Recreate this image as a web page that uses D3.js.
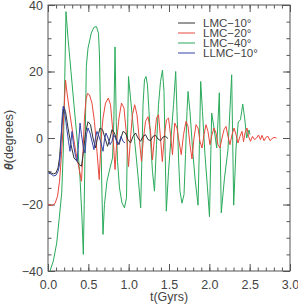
<!DOCTYPE html>
<html><head><meta charset="utf-8">
<script src="https://cdn.jsdelivr.net/npm/d3@7/dist/d3.min.js"></script>
<style>body{margin:0;background:#fff}svg{display:block}text{font-family:"Liberation Sans",Arial,sans-serif;fill:#444}</style>
</head><body><svg id="c" width="298" height="304"></svg>
<script>
const seriesNames = ["LMC\u221210\u00b0","LMC\u221220\u00b0","LMC\u221240\u00b0","LLMC\u221210\u00b0"];
const seriesColors = ["#333333","#e8483c","#2aaa5a","#3444aa"];
const xTicks = [0,0.5,1,1.5,2,2.5,3];
const yTicks = [-40,-20,0,20,40];

const tBlack = [0.006,0.037,0.068,0.099,0.124,0.143,0.161,0.180,0.198,0.217,0.248,0.285,0.322,0.360,0.390,0.415,0.440,0.465,0.496,0.527,0.558,0.589,0.614,0.645,0.676,0.707,0.738,0.769,0.793,0.824,0.855,0.880,0.905,0.930,0.961,0.992,1.023,1.054,1.085,1.116,1.147,1.178,1.209,1.240,1.271,1.302,1.333,1.364,1.395,1.426,1.457,1.488];
const vBlack = [-10.2,-10.5,-10.8,-10.5,-9,-6,0,6,9.2,8,3,-2,-6,-7,-8,-8.5,-4,1.5,4.9,4,0,-3,0,3,2.5,0,-2.5,0,2.5,1.5,-1,-2,0,2,1.5,-0.5,-1.5,0.5,1.5,0,-1,0.5,1,-0.5,-0.8,0.5,0.8,-0.3,-0.8,0.3,0.5,-0.2];

const tRed = [0.006,0.050,0.087,0.118,0.143,0.167,0.192,0.217,0.236,0.273,0.310,0.347,0.384,0.415,0.434,0.452,0.471,0.490,0.514,0.545,0.576,0.607,0.635,0.657,0.682,0.713,0.748,0.775,0.800,0.831,0.855,0.880,0.911,0.942,0.973,0.998,1.023,1.047,1.075,1.103,1.134,1.159,1.184,1.209,1.240,1.271,1.295,1.320,1.345,1.370,1.395,1.417,1.444,1.469,1.494,1.519,1.543,1.571,1.599,1.624,1.652,1.680,1.711,1.736,1.760,1.785,1.810,1.835,1.860,1.884,1.909,1.934,1.959,1.983,2.008,2.033,2.058,2.083,2.107,2.132,2.157,2.182,2.207,2.231,2.256,2.281,2.306,2.331,2.355,2.380,2.405,2.424,2.442,2.467,2.486,2.510,2.535,2.560,2.585,2.610,2.634,2.653,2.678,2.702,2.727,2.752,2.777,2.802,2.833];
const vRed = [-20,-20.3,-19.7,-17.5,-13,-5,5,17.4,13.5,7,1,-4.5,-9,-13,-4,6,11.5,13.4,13,10.5,5,-4,-12.5,-1,6,10.5,12,10,3,-9.5,0,6,10.5,9,1,-8.6,0,7,10,7,-1,-7,0,5,6.4,2,-6.6,0,6,7,0,-7.1,1,5.5,6,1,-5,4.5,3,-1,-5,1,5,3.5,-2,-6.3,0,4,3,-1,-3,1,4,2,-2,1,3,1.5,-2,-3,0,2.5,3.5,0.5,-2,1,3,1,-1.5,0.5,2,-1.1,1.5,3,0.5,-1,0.5,-0.5,0,0.9,-0.5,0.8,-0.8,0.2,0.5,-0.8,-0.2,0.2,0];

const tGreen = [0.025,0.066,0.108,0.140,0.170,0.190,0.208,0.223,0.248,0.285,0.322,0.360,0.397,0.421,0.438,0.449,0.462,0.475,0.496,0.537,0.570,0.601,0.626,0.638,0.647,0.660,0.669,0.682,0.700,0.731,0.769,0.800,0.816,0.831,0.846,0.862,0.886,0.917,0.948,0.973,0.985,0.998,1.023,1.054,1.091,1.122,1.149,1.165,1.178,1.196,1.215,1.233,1.252,1.277,1.295,1.320,1.345,1.370,1.395,1.419,1.438,1.453,1.467,1.494,1.525,1.556,1.583,1.599,1.618,1.636,1.661,1.686,1.705,1.723,1.736,1.760,1.791,1.822,1.860,1.877,1.893,1.915,1.946,1.977,2.002,2.029,2.058,2.091,2.124,2.148,2.188,2.231,2.277,2.302,2.331,2.359,2.386,2.414,2.438,2.463,2.492,2.504];
const vGreen = [-40,-37,-31.6,-24,-16.5,-3.6,18,38,30,20,10,0,-12,-24,-35,-20,1,21.5,27,31.6,33.3,33.5,31.5,25,12,-5,-17,-29,-20,-13,-9,-6,5,27.4,5,-7,-15,-19.5,-21,-18,0,18.5,12,4,-5,-13,-21,-5,10,17.5,18.5,16,8,-3,-10,-16,-2,10,17,20.4,14,-5,-22,-10,0,10,20,8,-6,-16,-19.6,-17,-5,8,14,8,-3,-12,-20.2,-2,17,8,-5,-15,-23.7,7.5,3,-3,13.6,-22.5,-12,-3.6,19,-20.2,-3,4.8,5.5,10.2,6,0,2.4,1];

const tBlue = [0.006,0.037,0.068,0.099,0.124,0.143,0.155,0.167,0.180,0.190,0.205,0.229,0.254,0.273,0.285,0.298,0.316,0.341,0.360,0.378,0.397,0.415,0.440,0.459,0.477,0.496,0.521,0.545,0.570,0.589,0.607,0.632,0.657,0.682,0.700,0.719,0.744,0.769,0.793,0.812,0.837,0.862,0.886,0.905,0.930,0.955];
const vBlue = [-10.6,-10.8,-11.4,-11.2,-10,-8,-4,2,8,9.6,8,3.5,-1,-4,-1,2,-2,-5.5,-7,-2,4.5,1,-3,-4.5,1,3,1.5,-1,-3.5,0,2,0.5,-1.5,-4,-0.5,1.5,0,-2,-1,1,0,-2,-1,0.5,-1,-1.5];

const svg = d3.select("#c");
const L=48,R=290,T=5,B=271;
const x = d3.scaleLinear().domain([0,3]).range([L,R]);
const y = d3.scaleLinear().domain([-40,40]).range([B,T]);
const axisColor="#555";

function styleAxis(g){g.select(".domain").remove();g.selectAll("line").attr("stroke",axisColor);g.selectAll("text").attr("fill","#444").style("font-size","12.5px").style("font-family","'Liberation Sans',Arial,sans-serif");}

const xMinor = d3.range(0,3.001,0.1);
const yMinor = d3.range(-40,40.001,5);
svg.append("g").attr("transform",`translate(0,${B})`).call(d3.axisBottom(x).tickValues(xTicks).tickFormat(d3.format(".1f")).tickSize(-7).tickPadding(9)).call(styleAxis);
svg.append("g").attr("transform",`translate(0,${B})`).call(d3.axisBottom(x).tickValues(xMinor).tickFormat("").tickSize(-3.5)).call(styleAxis);
svg.append("g").attr("transform",`translate(0,${T})`).call(d3.axisTop(x).tickValues(xTicks).tickFormat("").tickSize(-7)).call(styleAxis);
svg.append("g").attr("transform",`translate(0,${T})`).call(d3.axisTop(x).tickValues(xMinor).tickFormat("").tickSize(-3.5)).call(styleAxis);
svg.append("g").attr("transform",`translate(${L},0)`).call(d3.axisLeft(y).tickValues(yTicks).tickFormat(d3.format("d")).tickSize(-7).tickPadding(5)).call(styleAxis);
svg.append("g").attr("transform",`translate(${L},0)`).call(d3.axisLeft(y).tickValues(yMinor).tickFormat("").tickSize(-3.5)).call(styleAxis);
svg.append("g").attr("transform",`translate(${R},0)`).call(d3.axisRight(y).tickValues(yTicks).tickFormat("").tickSize(-7)).call(styleAxis);
svg.append("g").attr("transform",`translate(${R},0)`).call(d3.axisRight(y).tickValues(yMinor).tickFormat("").tickSize(-3.5)).call(styleAxis);

svg.append("rect").attr("x",L).attr("y",T).attr("width",R-L).attr("height",B-T).attr("fill","none").attr("stroke",axisColor).attr("stroke-width",1);

const line = d3.line().x(d=>x(d[0])).y(d=>y(d[1]));
const series = [[tBlack,vBlack],[tRed,vRed],[tGreen,vGreen],[tBlue,vBlue]];
const drawOrder=[2,1,0,3];
drawOrder.forEach(i=>{
  const [ts,vs]=series[i];
  svg.append("path").datum(ts.map((t,j)=>[t,vs[j]])).attr("d",line).attr("fill","none").attr("stroke",seriesColors[i]).attr("stroke-width",1).attr("stroke-linejoin","round");
});

const lg = svg.append("g");
seriesNames.forEach((n,i)=>{
  const yy = 23 + i*10;
  lg.append("line").attr("x1",178).attr("x2",195).attr("y1",yy).attr("y2",yy).attr("stroke",seriesColors[i]).attr("stroke-width",1);
  lg.append("text").attr("x",203).attr("y",yy).attr("dy","0.35em").style("font-size","11.5px").text(n);
});

svg.append("text").attr("x",(L+R)/2).attr("y",301).attr("text-anchor","middle").style("font-size","12.5px").text("t(Gyrs)");
const yt = svg.append("text").attr("transform","translate(13,140) rotate(-90)").attr("text-anchor","middle").style("font-size","12.5px");
yt.append("tspan").style("font-style","italic").style("font-weight","bold").text("\u03b8");
yt.append("tspan").text("(degrees)");
</script></body></html>
